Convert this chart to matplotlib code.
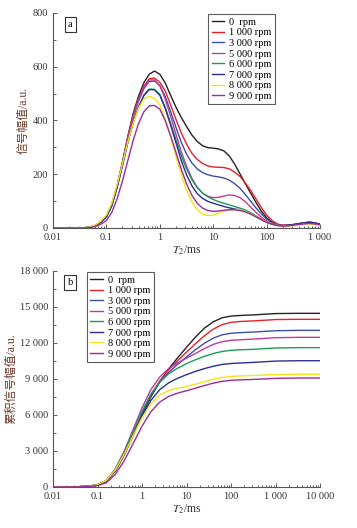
import matplotlib
matplotlib.use("Agg")
import matplotlib.pyplot as plt
from matplotlib.ticker import FixedLocator, MultipleLocator, LogLocator, NullFormatter

plt.rcParams["font.family"] = ["Liberation Serif", "Noto Sans CJK SC"]
plt.rcParams["mathtext.fontset"] = "stix"

labels = ["0  rpm", "1 000 rpm", "3 000 rpm", "5 000 rpm",
          "6 000 rpm", "7 000 rpm", "8 000 rpm", "9 000 rpm"]
colors = ["#222222", "#e8202a", "#3c4fa8", "#c2399e",
          "#1d9a5a", "#2c2f8f", "#f5e21a", "#9b2c9a"]

# panel a: T2 distribution
t2_a = [0.01, 0.025, 0.04, 0.05, 0.063, 0.079, 0.1, 0.126, 0.158, 0.2, 0.251,
        0.316, 0.398, 0.501, 0.631, 0.794, 1, 1.26, 1.58, 2.0, 2.51, 3.16,
        3.98, 5.01, 6.31, 7.94, 10, 12.6, 15.8, 20, 25.1, 31.6, 39.8, 50.1,
        63.1, 79.4, 100, 126, 158, 200, 251, 316, 398, 501, 631, 794, 1000]
amp_0 = [0, 0, 1, 3, 10, 22, 42, 85, 155, 245, 340, 425, 490, 540, 572, 584,
         572, 540, 495, 450, 412, 378, 346, 322, 306, 299, 297,
         294, 287, 268, 238, 202, 165, 130, 95, 63, 38,
         22, 13, 10, 11, 13, 16, 18, 20, 18, 15]
amp_1000 = [0, 0, 1, 3, 10, 23, 44, 87, 157, 245, 337, 418, 480, 527, 555, 558,
            542, 510, 460, 405, 355, 312, 278, 255, 240, 231, 227,
            226, 225, 220, 208, 192, 168, 140, 108, 76, 48,
            28, 15, 10, 11, 12, 15, 18, 20, 17, 14]
amp_3000 = [0, 0, 1, 3, 10, 22, 43, 85, 153, 240, 330, 410, 472, 518, 545, 547,
            530, 490, 435, 375, 320, 275, 242, 220, 206, 198, 193,
            190, 186, 178, 165, 148, 125, 100, 75, 52, 33,
            20, 12, 9, 10, 12, 16, 19, 21, 18, 14]
amp_5000 = [0, 0, 1, 3, 10, 22, 43, 86, 155, 242, 333, 414, 477, 523, 551, 551,
            530, 480, 418, 350, 285, 230, 185, 152, 130, 118, 113,
            114, 119, 123, 121, 113, 98, 78, 58, 40, 26,
            16, 11, 9, 10, 12, 16, 19, 22, 19, 14]
amp_6000 = [0, 0, 1, 3, 10, 22, 42, 83, 150, 233, 318, 392, 450, 494, 517, 516,
            497, 450, 392, 330, 270, 220, 180, 150, 130, 116, 106,
            98, 92, 86, 80, 74, 67, 57, 45, 33, 22,
            14, 10, 8, 9, 11, 14, 17, 19, 17, 13]
amp_7000 = [0, 0, 1, 3, 10, 22, 42, 83, 150, 233, 318, 392, 448, 492, 515, 514,
            494, 445, 385, 318, 252, 198, 157, 128, 110, 99, 92,
            86, 80, 75, 71, 67, 61, 52, 42, 31, 21,
            14, 10, 8, 10, 12, 16, 19, 22, 19, 14]
amp_8000 = [0, 0, 1, 4, 12, 26, 48, 92, 160, 240, 320, 390, 445, 480, 490, 482,
            458, 405, 340, 268, 200, 142, 98, 68, 52, 46, 48,
            55, 62, 67, 69, 67, 62, 53, 43, 32, 22,
            14, 9, 7, 8, 9, 12, 14, 15, 13, 11]
amp_9000 = [0, 0, 0, 2, 6, 14, 28, 58, 108, 175, 250, 325, 388, 432, 454, 456,
            442, 400, 345, 282, 220, 165, 122, 92, 74, 65, 62,
            63, 66, 68, 68, 65, 60, 52, 42, 31, 21,
            14, 9, 7, 8, 10, 13, 15, 17, 15, 12]

# panel b: cumulative signal
t2_b = [0.01, 0.032, 0.063, 0.1, 0.158, 0.251, 0.398, 0.631, 1, 1.58, 2.51,
        3.98, 6.31, 10, 15.8, 25.1, 39.8, 63.1, 100, 158, 316, 1000, 3162, 10000]
cum_0 = [0, 10, 60, 180, 480, 1320, 2670, 4300, 5990, 7510, 8780, 9840, 10760,
         11640, 12480, 13230, 13760, 14100, 14240, 14290, 14340, 14450, 14470, 14470]
cum_1000 = [0, 10, 60, 185, 520, 1400, 2790, 4460, 6170, 7670, 8840, 9760, 10520,
            11230, 11930, 12590, 13150, 13530, 13720, 13790, 13840, 13950, 13970, 13970]
cum_3000 = [0, 10, 60, 180, 500, 1400, 2790, 4470, 6170, 7630, 8730, 9550, 10220,
            10840, 11430, 11970, 12400, 12680, 12810, 12860, 12910, 13020, 13050, 13050]
cum_5000 = [0, 10, 60, 185, 535, 1500, 2990, 4790, 6600, 8110, 9170, 9870, 10340,
            10730, 11120, 11530, 11880, 12110, 12220, 12270, 12320, 12440, 12470, 12470]
cum_6000 = [0, 10, 60, 180, 525, 1460, 2880, 4600, 6310, 7740, 8750, 9430, 9900,
            10280, 10600, 10880, 11120, 11290, 11390, 11430, 11470, 11580, 11610, 11610]
cum_7000 = [0, 10, 55, 170, 490, 1370, 2700, 4300, 5900, 7210, 8120, 8680, 9060,
            9360, 9630, 9860, 10060, 10210, 10290, 10330, 10380, 10490, 10520, 10520]
cum_8000 = [0, 10, 60, 190, 540, 1420, 2740, 4270, 5750, 6920, 7660, 8040, 8230,
            8380, 8560, 8770, 8980, 9130, 9210, 9250, 9290, 9370, 9390, 9390]
cum_9000 = [0, 8, 40, 120, 350, 1040, 2190, 3620, 5070, 6270, 7080, 7550, 7820,
            8020, 8230, 8450, 8650, 8800, 8890, 8920, 8960, 9050, 9080, 9080]

amps = [amp_0, amp_1000, amp_3000, amp_5000, amp_6000, amp_7000, amp_8000, amp_9000]
cums = [cum_0, cum_1000, cum_3000, cum_5000, cum_6000, cum_7000, cum_8000, cum_9000]

xt_a = [0.01, 0.1, 1, 10, 100, 1000]
xl_a = ["0.01", "0.1", "1", "10", "100", "1 000"]
yt_a = [0, 200, 400, 600, 800]
xt_b = [0.01, 0.1, 1, 10, 100, 1000, 10000]
xl_b = ["0.01", "0.1", "1", "10", "100", "1 000", "10 000"]
yt_b = [0, 3000, 6000, 9000, 12000, 15000, 18000]
yl_b = ["0", "3 000", "6 000", "9 000", "12 000", "15 000", "18 000"]

fig = plt.figure(figsize=(3.57, 5.28), dpi=100)
ax_a = fig.add_axes([0.1485, 0.5682, 0.748, 0.4072])
ax_b = fig.add_axes([0.1485, 0.0777, 0.748, 0.4091])

fs = 7.5
lab_color = "#6b3a2a"


def style(ax, xt, xl, yt, yl, ylim, yminor, tag):
    ax.set_xscale("log")
    ax.set_xlim(xt[0], xt[-1])
    ax.set_ylim(*ylim)
    for s in ("top", "right"):
        ax.spines[s].set_visible(False)
    for s in ("left", "bottom"):
        ax.spines[s].set_color("#555555")
        ax.spines[s].set_linewidth(0.8)
    ax.xaxis.set_major_locator(FixedLocator(xt))
    ax.set_xticklabels(xl)
    ax.xaxis.set_minor_locator(LogLocator(base=10, subs=range(2, 10), numticks=20))
    ax.xaxis.set_minor_formatter(NullFormatter())
    ax.set_yticks(yt)
    ax.set_yticklabels(yl)
    ax.yaxis.set_minor_locator(MultipleLocator(yminor))
    ax.tick_params(which="both", direction="in", labelsize=fs, colors="#444444",
                   labelcolor="#333333", width=0.6)
    ax.tick_params(which="major", length=3)
    ax.tick_params(which="minor", length=1.8)
    ax.set_xlabel("$T_2$/ms", fontsize=8.5, labelpad=1, color="#333333")
    ax.text(0.064, 0.945, tag, transform=ax.transAxes, fontsize=fs,
            ha="center", va="center",
            bbox=dict(boxstyle="square,pad=0.3", fc="white", ec="#333333", lw=0.8))


def legend(ax, x0):
    leg = ax.legend(loc="upper left", bbox_to_anchor=(x0, 1.01), fontsize=fs,
                    frameon=True, fancybox=False, handlelength=1.2,
                    handletextpad=0.45, labelspacing=0.12, borderpad=0.35,
                    borderaxespad=0.3)
    leg.get_frame().set_edgecolor("#333333")
    leg.get_frame().set_linewidth(0.8)


for vals, c, lab in zip(amps, colors, labels):
    ax_a.plot(t2_a, vals, color=c, lw=1.0, label=lab)
style(ax_a, xt_a, xl_a, yt_a, [str(v) for v in yt_a], (0, 800), 100, "a")
ax_a.set_ylabel("信号幅值/a.u.", fontsize=8.5, color=lab_color, labelpad=2)
legend(ax_a, 0.57)

for vals, c, lab in zip(cums, colors, labels):
    ax_b.plot(t2_b, vals, color=c, lw=1.0, label=lab)
style(ax_b, xt_b, xl_b, yt_b, yl_b, (0, 18000), 1500, "b")
ax_b.set_ylabel("累积信号幅值/a.u.", fontsize=8.5, color=lab_color, labelpad=2)
legend(ax_b, 0.115)

fig.savefig("out.png", dpi=100)
plt.close(fig)
